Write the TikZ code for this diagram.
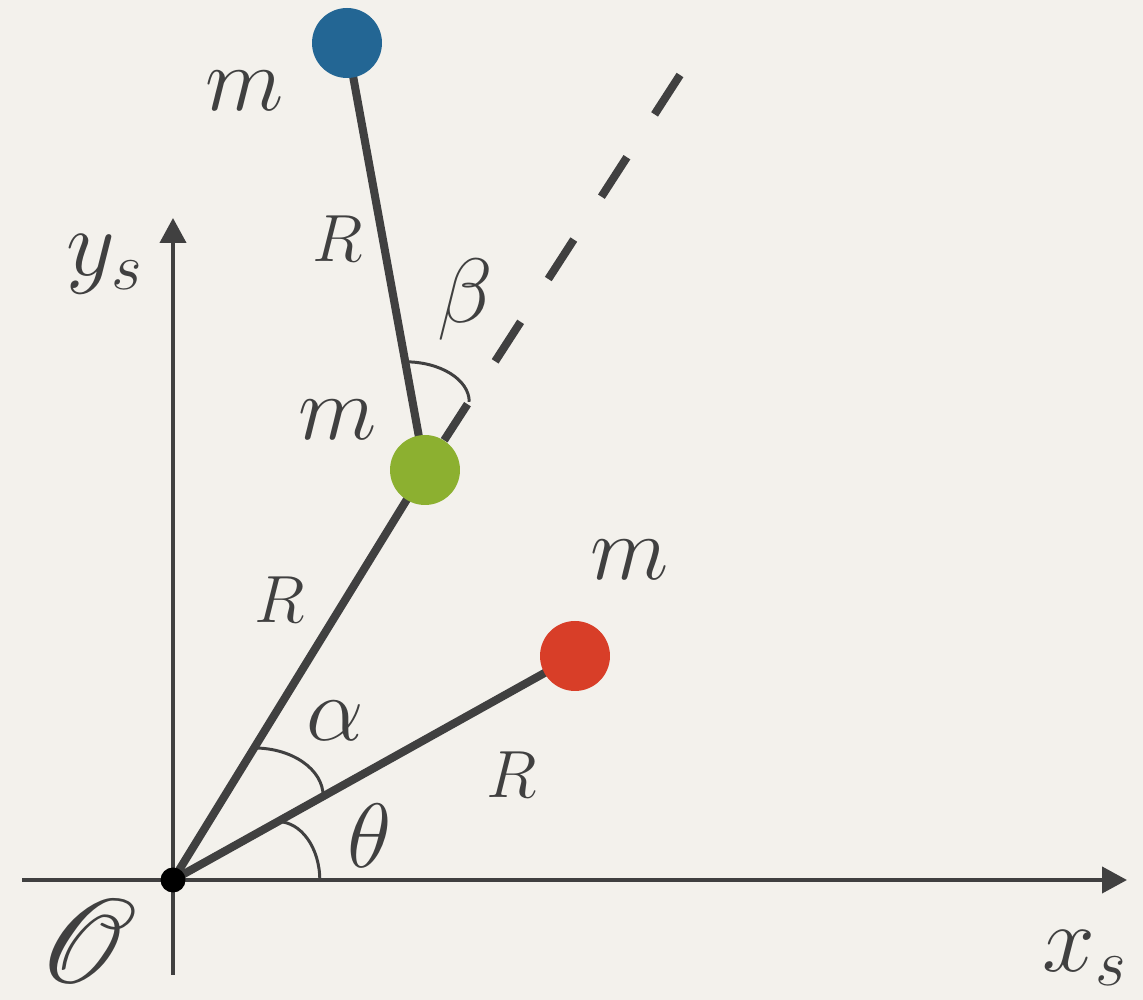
\RequirePackage{fix-cm}
\documentclass[tikz,border=0pt]{standalone}
\usepackage{mathrsfs}
\usetikzlibrary{arrows.meta,calc}

\definecolor{paper}{RGB}{243,241,236}
\definecolor{ink}{RGB}{64,64,64}
\definecolor{ballblue}{RGB}{35,102,148}
\definecolor{ballgreen}{RGB}{140,176,48}
\definecolor{ballred}{RGB}{216,62,40}

\pgfdeclarelayer{background}
\pgfsetlayers{background,main}

\begin{document}
\begin{tikzpicture}[
  x=0.02cm, y=0.02cm,
  axisline/.style={draw=ink, line width=2.3pt,
    -{Triangle[length=0.5cm, width=0.52cm]}},
  rod/.style={draw=ink, line width=4.6pt},
  dashline/.style={draw=ink, line width=4.6pt,
    dash pattern=on 0.94cm off 1.02cm},
  anglearc/.style={draw=ink, line width=1.7pt},
  ball/.style={circle, inner sep=0pt, minimum size=1.4cm},
  pivot/.style={circle, fill=black, inner sep=0pt, minimum size=0.5cm},
  lab/.style={text=ink, inner sep=0pt, font=\fontsize{52}{52}\selectfont},
  rlab/.style={text=ink, inner sep=0pt, font=\fontsize{38}{38}\selectfont},
  axlab/.style={text=ink, inner sep=0pt, font=\fontsize{54}{54}\selectfont}
]

  %% ============================================ the frame and the paper
  \useasboundingbox (0,0) rectangle (1143,1000);

  %% ------------------------------------------------------ the three masses
  \node[pivot] (O) at (173,120) {};
  \node[ball, fill=ballred] (red) at (575,344) {};
  \node[ball, fill=ballgreen] (green) at (425,530) {};
  \node[ball, fill=ballblue] (blue) at (347,957) {};

  \coordinate (dashend) at (680,925);
  \coordinate (xl) at (22,120);
  \coordinate (xr) at (1127,120);
  \coordinate (yb) at (173,25);
  \coordinate (yt) at (173,782);

  % Everything that runs into a ball goes underneath it.
  \begin{pgfonlayer}{background}
    \fill[paper] (0,0) rectangle (1143,1000);

    \draw[axisline] (xl) -- (xr);
    \draw[axisline] (yb) -- (yt);

    \draw[dashline, dash phase=0.08cm] (green) -- (dashend);
    \draw[rod] (O.center) -- (red.center);
    \draw[rod] (O.center) -- (green.center);
    \draw[rod] (green.center) -- (blue.center);

    %% ------------------------------------------------------ angle marks
    \draw[anglearc] ($(O.center)!2.4cm!(red.center)$)
      arc[start angle=90, end angle=0, x radius=0.84cm, y radius=1.17cm];
    \draw[anglearc] ($(O.center)!3.1cm!(green.center)$)
      arc[start angle=90, end angle=0, x radius=1.38cm, y radius=0.96cm];
    \draw[anglearc] ($(green.center)!2.2cm!(blue.center)$)
      arc[start angle=90, end angle=0, x radius=1.28cm, y radius=0.8cm];
  \end{pgfonlayer}

  %% ------------------------------------------------------------ labels
  \node[lab] (mblue) at (245,909) {$m$};
  \node[lab] (mgreen) at (338,580) {$m$};
  \node[lab] (mred) at (630,440) {$m$};
  \node[rlab] (Rblue) at (338,761) {$R$};
  \node[rlab] (Rgreen) at (280,400) {$R$};
  \node[rlab] (Rred) at (512,225) {$R$};
  \node[lab] (beta) at (465,700) {$\beta$};
  \node[lab] (alpha) at (335,279) {$\alpha$};
  \node[lab] (theta) at (370,164) {$\theta$};

  \node[axlab] (xs) at (1085,42) {$x_s$};
  \node[axlab] (ys) at (105,736) {$y_s$};
  % rsfs stops at \Huge, so the big script O is scaled up
  \node[text=ink, inner sep=0pt, font=\Huge, scale=2.75]
    (origin) at (88,59) {$\mathscr{O}$};

\end{tikzpicture}
\end{document}
